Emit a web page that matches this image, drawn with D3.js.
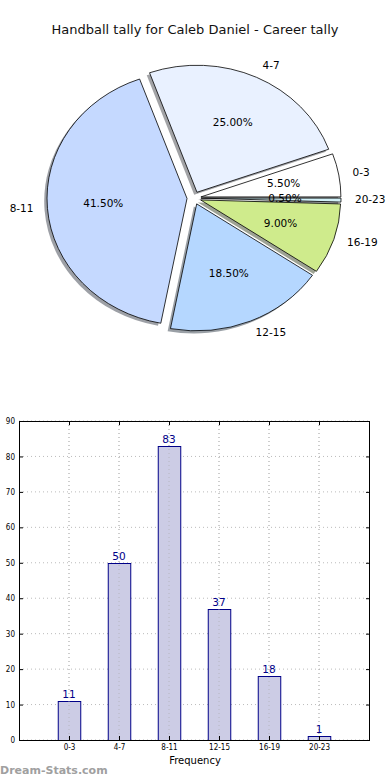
<!DOCTYPE html>
<html><head><meta charset="utf-8">
<script src="https://cdn.jsdelivr.net/npm/d3@7"></script>
<style>body{margin:0;background:#fff}svg{display:block}</style>
</head><body>
<svg id="c" width="390" height="780"></svg>
<script>
const title = "Handball tally for Caleb Daniel - Career tally";
const categories = ["0-3","4-7","8-11","12-15","16-19","20-23"];
const counts = [11,50,83,37,18,1];
const pieColors = ["#ffffff","#e9f1ff","#c5d9ff","#b5d7ff","#cfeb8c","#d2f1f8"];
const yTicks = [0,10,20,30,40,50,60,70,80,90];
const xLabel = "Frequency";
const watermark = "Dream-Stats.com";

const svg = d3.select("#c");
const font = "DejaVu Sans, sans-serif";

svg.append("text").attr("x",195).attr("y",30).attr("text-anchor","middle")
  .attr("dominant-baseline","middle").attr("font-family",font).attr("font-size",13)
  .attr("fill","#111").text(title);

// ---------- Pie (elliptical, matplotlib style) ----------
const cx = 194, cy = 198, rx = 140, ry = 127, explode = 0.05;
const total = d3.sum(counts);
const pie = d3.pie().sort(null).startAngle(Math.PI/2).endAngle(Math.PI/2 - 2*Math.PI);
const arcs = pie(counts);
const arc = d3.arc().innerRadius(0).outerRadius(rx);
const sy = ry/rx;
const mid = d => (d.startAngle + d.endAngle)/2;
const off = d => [explode*rx*Math.sin(mid(d)), -explode*ry*Math.cos(mid(d))];

const pg = svg.append("g");
pg.selectAll("path.sh").data(arcs).enter().append("path").attr("class","sh")
  .attr("d",arc)
  .attr("transform",d=>{const o=off(d);return `translate(${cx+o[0]-0.02*rx},${cy+o[1]+0.02*ry}) scale(1,${sy})`;})
  .attr("fill",(d,i)=>{const c=d3.rgb(pieColors[i]);return d3.rgb(c.r*0.3,c.g*0.3,c.b*0.3);})
  .attr("fill-opacity",0.5).attr("stroke","none");
pg.selectAll("path.w").data(arcs).enter().append("path").attr("class","w")
  .attr("d",arc)
  .attr("transform",d=>{const o=off(d);return `translate(${cx+o[0]},${cy+o[1]}) scale(1,${sy})`;})
  .attr("fill",(d,i)=>pieColors[i]).attr("stroke","#000").attr("stroke-width",0.8)
  .attr("vector-effect","non-scaling-stroke");
pg.selectAll("text.l").data(arcs).enter().append("text").attr("class","l")
  .attr("x",d=>cx+(explode+1.1)*rx*Math.sin(mid(d)))
  .attr("y",d=>cy-(explode+1.1)*ry*Math.cos(mid(d)))
  .attr("text-anchor",d=>Math.sin(mid(d))>0?"start":"end")
  .attr("dominant-baseline","middle").attr("font-family",font).attr("font-size",10.5)
  .attr("fill","#000").text((d,i)=>categories[i]);
pg.selectAll("text.p").data(arcs).enter().append("text").attr("class","p")
  .attr("x",d=>cx+(explode+0.6)*rx*Math.sin(mid(d)))
  .attr("y",d=>cy-(explode+0.6)*ry*Math.cos(mid(d)))
  .attr("text-anchor","middle")
  .attr("dominant-baseline","middle").attr("font-family",font).attr("font-size",10.5)
  .attr("fill","#000").text(d=>(100*d.value/total).toFixed(2)+"%");

// ---------- Bar chart ----------
const L=19, R=370, T=421, B=740;
const x = d3.scaleLinear().domain([-1,6.02]).range([L,R]);
const y = d3.scaleLinear().domain([0,90]).range([B,T]);
const bw = 0.45;
const bg = svg.append("g");
const small = "DejaVu Sans Condensed, DejaVu Sans, sans-serif";

bg.selectAll("line.gy").data(yTicks).enter().append("line")
  .attr("x1",L).attr("x2",R).attr("y1",d=>y(d)).attr("y2",d=>y(d))
  .attr("stroke","#bbb").attr("stroke-width",1).attr("stroke-dasharray","1,3");
bg.selectAll("line.gx").data(categories).enter().append("line")
  .attr("x1",(d,i)=>x(i)).attr("x2",(d,i)=>x(i)).attr("y1",T).attr("y2",B)
  .attr("stroke","#bbb").attr("stroke-width",1).attr("stroke-dasharray","1,3");

bg.selectAll("rect").data(counts).enter().append("rect")
  .attr("x",(d,i)=>x(i-bw/2)+0.5).attr("width",(d,i)=>x(bw)-x(0))
  .attr("y",d=>Math.round(y(d))+0.5).attr("height",d=>B-Math.round(y(d)))
  .attr("fill","#ccccE5").attr("stroke","#000088").attr("stroke-width",1);
bg.selectAll("line.gx2").data(categories).enter().append("line")
  .attr("x1",(d,i)=>x(i)).attr("x2",(d,i)=>x(i)).attr("y1",T).attr("y2",B)
  .attr("stroke","#aaa").attr("stroke-width",1).attr("stroke-dasharray","1,3").attr("opacity",0.6);

bg.selectAll("text.v").data(counts).enter().append("text")
  .attr("x",(d,i)=>x(i)).attr("y",d=>y(d)-3).attr("text-anchor","middle")
  .attr("font-family",font).attr("font-size",10.5).attr("fill","#000088").text(d=>d);

bg.append("rect").attr("x",L+0.5).attr("y",T+0.5).attr("width",R-L-1).attr("height",B-T)
  .attr("fill","none").attr("stroke","#000").attr("stroke-width",1);

const yAxis = d3.axisLeft(y).tickValues(yTicks).tickSize(-4).tickPadding(4);
const ya = bg.append("g").attr("transform",`translate(${L},0)`).call(yAxis);
ya.select(".domain").remove();
ya.selectAll("text").attr("font-family",small).attr("font-size",8).attr("fill","#000");
const yAxisR = d3.axisRight(y).tickValues(yTicks).tickSize(-4).tickFormat("");
const yr = bg.append("g").attr("transform",`translate(${R},0)`).call(yAxisR);
yr.select(".domain").remove();

const xAxis = d3.axisBottom(x).tickValues(d3.range(categories.length)).tickSize(-4).tickPadding(4)
  .tickFormat(i=>categories[i]);
const xa = bg.append("g").attr("transform",`translate(0,${B})`).call(xAxis);
xa.select(".domain").remove();
xa.selectAll("text").attr("font-family",small).attr("font-size",8).attr("fill","#000");
const xAxisT = d3.axisTop(x).tickValues(d3.range(categories.length)).tickSize(-4).tickFormat("");
const xt = bg.append("g").attr("transform",`translate(0,${T})`).call(xAxisT);
xt.select(".domain").remove();

svg.append("text").attr("x",195).attr("y",761).attr("text-anchor","middle")
  .attr("dominant-baseline","middle").attr("font-family",font).attr("font-size",10)
  .attr("fill","#000").text(xLabel);
svg.append("text").attr("x",0).attr("y",771).attr("dominant-baseline","middle")
  .attr("font-family",font).attr("font-size",11).attr("font-weight","600")
  .attr("fill","#a0a0a0").text(watermark);
</script>
</body></html>
